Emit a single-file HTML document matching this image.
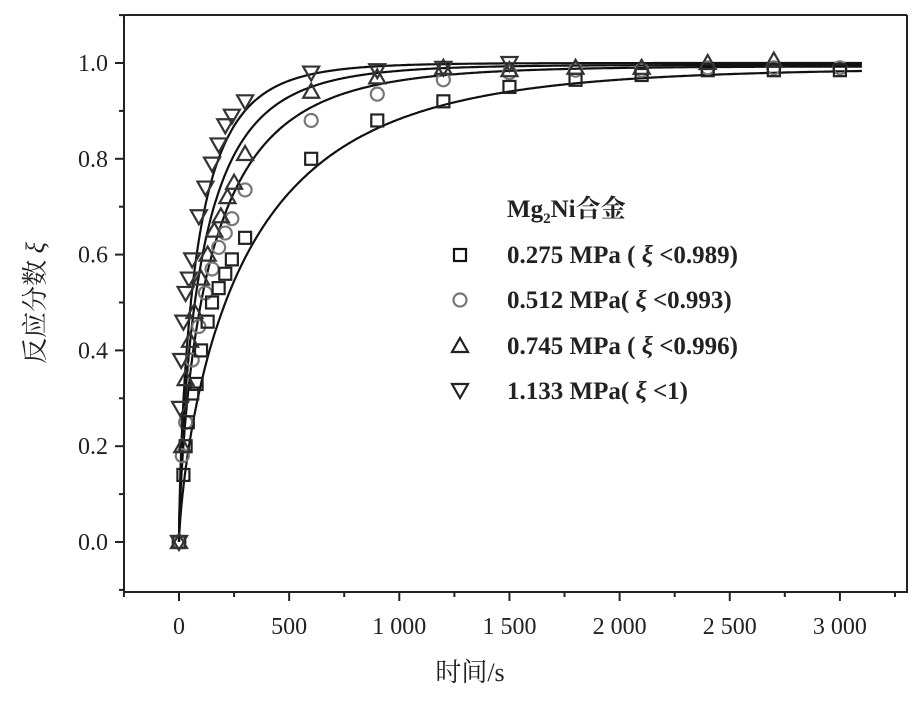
<!DOCTYPE html>
<html><head><meta charset="utf-8"><style>
html,body{margin:0;padding:0;background:#fff;}
svg{display:block;}
text{font-family:"Liberation Serif","Noto Serif CJK SC",serif;fill:#222;}
</style></head><body>
<svg id="s" width="915" height="702" viewBox="0 0 915 702" xmlns="http://www.w3.org/2000/svg">
<rect width="915" height="702" fill="#fff"/>
<g id="ax" stroke="#222" stroke-width="2" fill="none"></g>
<g id="curves" stroke="#111" stroke-width="2.2" fill="none"></g>
<g id="pts" fill="none" stroke-width="2.2"></g>
<g id="lab" font-size="24"></g>
<g font-size="25" font-weight="bold">
<text x="507" y="217">Mg<tspan font-size="15" dy="6">2</tspan><tspan dy="-6">Ni合金</tspan></text>
<text x="507" y="263">0.275 MPa ( <tspan font-style="italic">ξ</tspan> &lt;0.989)</text>
<text x="507" y="308">0.512 MPa( <tspan font-style="italic">ξ</tspan> &lt;0.993)</text>
<text x="507" y="354">0.745 MPa ( <tspan font-style="italic">ξ</tspan> &lt;0.996)</text>
<text x="507" y="399">1.133 MPa( <tspan font-style="italic">ξ</tspan> &lt;1)</text>
</g>
<text x="470" y="681" font-size="26" text-anchor="middle">时间/s</text>
<text transform="translate(44,303) rotate(-90)" font-size="26" text-anchor="middle">反应分数 <tspan font-style="italic">ξ</tspan></text>
</svg>
<script>
const X=t=>179+t*0.2203, Y=v=>542-v*479;
const NS="http://www.w3.org/2000/svg";
function el(p,n,a,txt){const e=document.createElementNS(NS,n);for(const k in a)e.setAttribute(k,a[k]);if(txt!=null)e.textContent=txt;document.getElementById(p).appendChild(e);return e;}
el('ax','path',{d:'M124 15 H907 M124 15 V592 H907 V15'});
for(let i=-1;i<=11;i++){const v=i/10,y=Y(v),maj=(i%2==0);el('ax','line',{x1:124,x2:maj?115:119,y1:y,y2:y});}
[0,0.2,0.4,0.6,0.8,1.0].forEach(v=>el('lab','text',{x:108,y:Y(v)+8,'text-anchor':'end'},v.toFixed(1)));
for(let t=-250;t<=3250;t+=250){const x=X(t),maj=t%500==0;el('ax','line',{x1:x,x2:x,y1:592,y2:maj?601:597});}
['0','500','1 000','1 500','2 000','2 500','3 000'].forEach((s,i)=>el('lab','text',{x:X(i*500),y:634,'text-anchor':'middle'},s));
[[0.00296,0.74,0.989],[0.006,0.7,0.993],[0.0083,0.7,0.996],[0.011,0.7,1.0]].forEach(([k,n,m])=>{let d='';for(let t=0;t<=3100;t+=(t<100?1:5)){d+=(t?'L':'M')+X(t).toFixed(1)+' '+Y(m*(1-Math.exp(-Math.pow(k*t,n)))).toFixed(1);}el('curves','path',{d});});
function sq(x,y,c){el('pts','rect',{x:x-6,y:y-6,width:12,height:12,stroke:c});}
function ci(x,y,c){el('pts','circle',{cx:x,cy:y,r:6.5,stroke:c});}
function tu(x,y,c){el('pts','path',{d:`M${x} ${y-8}L${x+8} ${y+6}L${x-8} ${y+6}Z`,stroke:c});}
function td(x,y,c){el('pts','path',{d:`M${x} ${y+8}L${x+8} ${y-6}L${x-8} ${y-6}Z`,stroke:c});}
const S=[[0,0],[20,0.14],[30,0.2],[40,0.25],[60,0.31],[80,0.33],[100,0.4],[130,0.46],[150,0.5],[180,0.53],[210,0.56],[240,0.59],[300,0.635],[600,0.8],[900,0.88],[1200,0.92],[1500,0.95],[1800,0.965],[2100,0.975],[2400,0.985],[2700,0.985],[3000,0.985]];
const C=[[0,0],[15,0.18],[30,0.25],[60,0.38],[90,0.45],[120,0.52],[150,0.57],[180,0.615],[210,0.645],[240,0.675],[300,0.735],[600,0.88],[900,0.935],[1200,0.965],[1500,0.98],[1800,0.985],[2100,0.985],[2400,0.99],[2700,0.99],[3000,0.99]];
const U=[[0,0],[15,0.2],[30,0.34],[50,0.42],[70,0.48],[100,0.55],[130,0.6],[160,0.65],[190,0.68],[220,0.72],[250,0.75],[300,0.81],[600,0.94],[900,0.97],[1200,0.99],[1500,0.985],[1800,0.99],[2100,0.99],[2400,1.0],[2700,1.005]];
const D=[[0,0],[5,0.28],[10,0.38],[20,0.46],[30,0.52],[45,0.55],[60,0.59],[90,0.68],[120,0.74],[150,0.79],[180,0.83],[210,0.87],[240,0.89],[300,0.92],[600,0.98],[900,0.985],[1200,0.99],[1500,1.0]];
C.forEach(([t,v])=>ci(X(t),Y(v),'#777'));
S.forEach(([t,v])=>sq(X(t),Y(v),'#222'));
U.forEach(([t,v])=>tu(X(t),Y(v),'#333'));
D.forEach(([t,v])=>td(X(t),Y(v),'#333'));
sq(460,255,'#111');ci(460,300,'#777');tu(460,346,'#222');td(460,390,'#222');
</script>
</body></html>
